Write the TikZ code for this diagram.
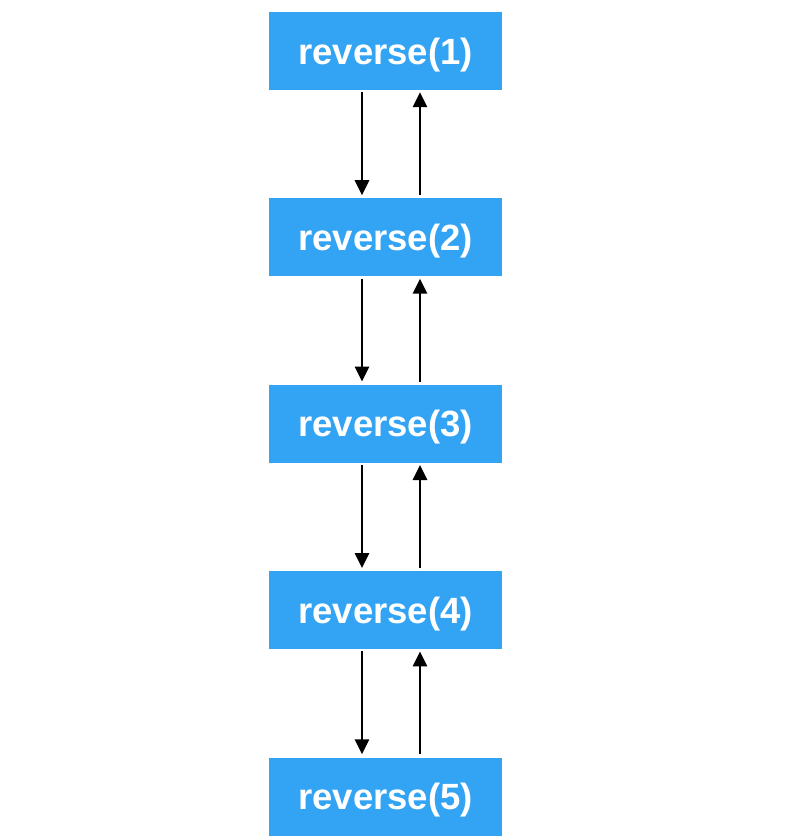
\documentclass[tikz,border=0pt]{standalone}
\usepackage{fontspec}
\setmainfont{Liberation Sans}
\usepackage{xcolor}
\usepackage{tikz}
\usetikzlibrary{arrows.meta,positioning}
\definecolor{boxblue}{RGB}{51,163,244}
\tikzset{
  rev/.style={rectangle, draw=none, fill=boxblue, text=white,
    minimum height=78pt, minimum width=233pt, inner sep=0pt, align=center,
    text depth=0.3pt, font=\fontsize{36.5}{40}\selectfont\bfseries},
  arr/.style={-{Triangle[length=15pt, width=14pt]}, line width=2.8pt, black},
}

\begin{document}
\begin{tikzpicture}[
    node distance=108pt,
  ]
  \useasboundingbox (0pt,0pt) rectangle (804pt,-836pt);
  % call chain
  \node[rev] (r1) at (385.5pt,-51pt) {reverse(1)};
  \node[rev, below=of r1] (r2) {reverse(2)};
  \node[rev, below=of r2] (r3) {reverse(3)};
  \node[rev, below=of r3] (r4) {reverse(4)};
  \node[rev, below=of r4] (r5) {reverse(5)};
  % calls going down
  \draw[arr] ([xshift=-23.5pt,yshift=-2pt]r1.south) -- ([xshift=-23.5pt,yshift=3pt]r2.north);
  \draw[arr] ([xshift=-23.5pt,yshift=-2pt]r2.south) -- ([xshift=-23.5pt,yshift=3pt]r3.north);
  \draw[arr] ([xshift=-23.5pt,yshift=-2pt]r3.south) -- ([xshift=-23.5pt,yshift=3pt]r4.north);
  \draw[arr] ([xshift=-23.5pt,yshift=-2pt]r4.south) -- ([xshift=-23.5pt,yshift=3pt]r5.north);
  % returns going up
  \draw[arr] ([xshift=34.5pt,yshift=3pt]r2.north) -- ([xshift=34.5pt,yshift=-2pt]r1.south);
  \draw[arr] ([xshift=34.5pt,yshift=3pt]r3.north) -- ([xshift=34.5pt,yshift=-2pt]r2.south);
  \draw[arr] ([xshift=34.5pt,yshift=3pt]r4.north) -- ([xshift=34.5pt,yshift=-2pt]r3.south);
  \draw[arr] ([xshift=34.5pt,yshift=3pt]r5.north) -- ([xshift=34.5pt,yshift=-2pt]r4.south);
\end{tikzpicture}
\end{document}
